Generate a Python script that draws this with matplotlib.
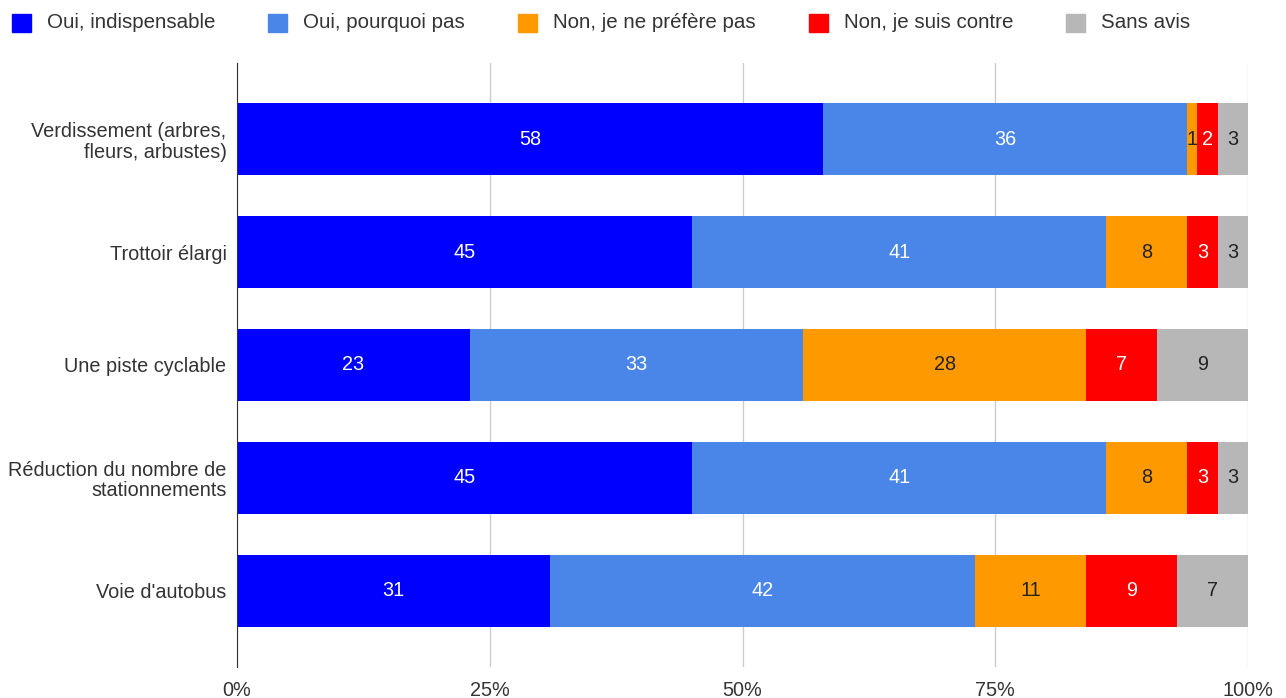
import numpy as np
import matplotlib
matplotlib.use("Agg")
import matplotlib.pyplot as plt
from matplotlib.patches import Rectangle

plt.rcParams['font.family'] = ['Liberation Sans', 'DejaVu Sans']

# Données
categories = ['Verdissement (arbres,\nfleurs, arbustes)', 'Trottoir élargi',
              'Une piste cyclable', 'Réduction du nombre de\nstationnements',
              "Voie d'autobus"]
series = ['Oui, indispensable', 'Oui, pourquoi pas', 'Non, je ne préfère pas',
          'Non, je suis contre', 'Sans avis']
oui_indisp = [58, 45, 23, 45, 31]
oui_pourquoi = [36, 41, 33, 41, 42]
non_prefere = [1, 8, 28, 8, 11]
non_contre = [2, 3, 7, 3, 9]
sans_avis = [3, 3, 9, 3, 7]
xticks = [0, 25, 50, 75, 100]
xtick_labels = ['0%', '25%', '50%', '75%', '100%']

couleurs = ['#0000ff', '#4a86e8', '#ff9900', '#ff0000', '#b7b7b7']
couleurs_texte = ['white', 'white', '#222222', 'white', '#222222']
gris_texte = '#333333'

W, H = 1286, 698
fig = plt.figure(figsize=(W / 100, H / 100), dpi=100)
ax = fig.add_axes([237 / W, 1 - 667 / H, (1248 - 237) / W, (667 - 63) / H])

valeurs = [oui_indisp, oui_pourquoi, non_prefere, non_contre, sans_avis]
y = np.arange(len(categories))
gauche = np.zeros(len(categories))
fs = 14.3
for vals, c, tc, nom in zip(valeurs, couleurs, couleurs_texte, series):
    vals = np.array(vals, dtype=float)
    bars = ax.barh(y, vals, left=gauche, height=0.637, color=c, label=nom, zorder=2)
    ax.bar_label(bars, labels=[str(int(v)) for v in vals], label_type='center',
                 color=tc, fontsize=fs)
    gauche += vals

ax.set_xlim(0, 100)
ax.set_ylim(len(categories) - 1 + 0.673, -0.673)
ax.set_yticks(y)
ax.set_yticklabels(categories, fontsize=fs, color=gris_texte, linespacing=1.1)
ax.set_xticks(xticks)
ax.set_xticklabels(xtick_labels, fontsize=fs, color=gris_texte)
ax.tick_params(length=0)
ax.tick_params(axis='y', pad=7.5)
ax.tick_params(axis='x', pad=10)
ax.grid(axis='x', color='#cccccc', linewidth=1, zorder=0)
for s in ['top', 'right', 'bottom']:
    ax.spines[s].set_visible(False)
ax.spines['left'].set_color('#333333')
ax.spines['left'].set_zorder(3)

# Légende en haut
fig.canvas.draw()
rend = fig.canvas.get_renderer()
x = 12
for nom, c in zip(series, couleurs):
    fig.patches.append(Rectangle((x / W, 1 - 32 / H), 19 / W, 18 / H, color=c,
                                 transform=fig.transFigure, figure=fig))
    t = fig.text((x + 35) / W, 1 - 23 / H, nom, fontsize=14.8, color=gris_texte, va='center')
    bb = t.get_window_extent(rend)
    x = x + 35 + bb.width + 53

fig.savefig('out.png', dpi=100)
